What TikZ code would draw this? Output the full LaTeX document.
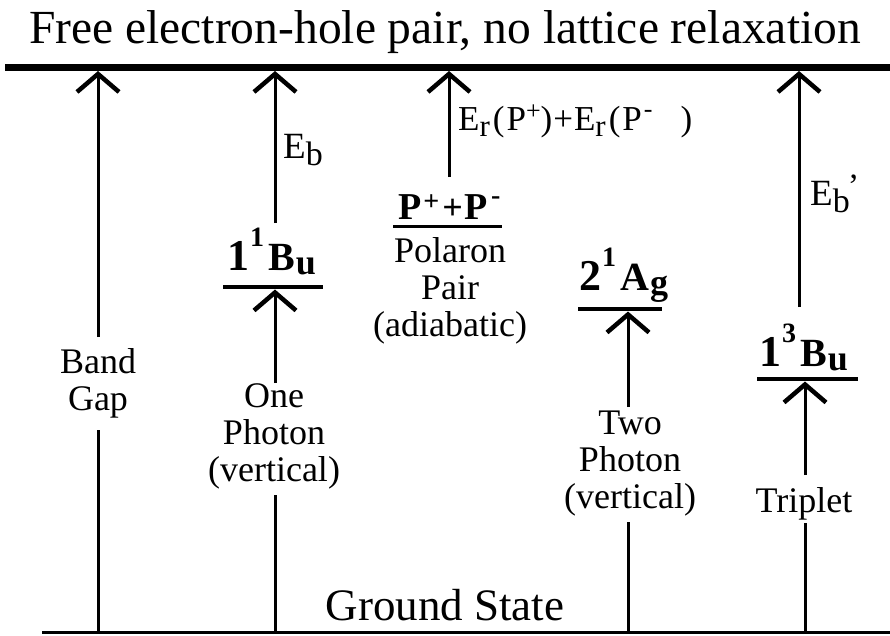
\documentclass[tikz,border=0pt]{standalone}
\usepackage{fontspec}
\setmainfont{Liberation Serif}
\usetikzlibrary{arrows.meta}
\newcommand{\fs}[1]{\fontsize{#1}{#1}\selectfont}
\newcommand{\stlab}[4]{{\fs{44}\bfseries #1}\kern1pt\raisebox{24pt}{\fs{28}\bfseries #2}\kern4pt{\fs{40}\bfseries #3}\kern1pt\raisebox{-4pt}{\fs{36}\bfseries #4}}
\begin{document}
\begin{tikzpicture}[x=1pt,y=-1pt,
  shaft/.style={line width=3pt},
  up/.style={shaft,-{Straight Barb[length=18pt,width=42pt,line width=4.5pt]}},
  level/.style={line width=3.5pt},
  lab/.style={font=\fontsize{36}{37}\selectfont, align=center, inner sep=0pt, anchor=north},
  state/.style={inner sep=0pt, anchor=base west},
  elab/.style={inner sep=0pt, anchor=base west},
]
\useasboundingbox (0,0) rectangle (890,635);

% frame lines
\coordinate (TL) at (5,67); \coordinate (TR) at (890,67);
\draw[line width=7pt] (TL) -- (TR);
\coordinate (BL) at (42,632.5); \coordinate (BR) at (890,632.5);
\draw[line width=3.5pt] (BL) -- (BR);

\node[inner sep=0pt, anchor=base, font=\fs{47.5}] (title) at (445,43) {Free electron-hole pair, no lattice relaxation};
\node[inner sep=0pt, anchor=base, font=\fs{45}] (ground) at (445,620) {Ground State};

% Band gap
\node[lab] (bg) at (98,348.5) {Band\\Gap};
\coordinate (bgG) at (98,632); \coordinate (bgB) at (98,430);
\coordinate (bgA) at (98,337); \coordinate (bgT) at (98,71);
\draw[shaft] (bgG) -- (bgB);
\draw[up] (bgA) -- (bgT);

% One photon / 1^1B_u
\node[state] (s1) at (227,270) {\stlab{1}{1}{B}{u}};
\coordinate (l1a) at (223,287); \coordinate (l1b) at (323,287);
\draw[level] (l1a) -- (l1b);
\coordinate (e1B) at (275,223); \coordinate (e1T) at (275,71);
\draw[up] (e1B) -- (e1T);
\node[elab] (eb) at (283,158) {\fs{37}E\raisebox{-7pt}{\fs{34}b}};
\node[lab] (op) at (274,383.5) {One\\Photon\\(vertical)};
\coordinate (opG) at (275,632); \coordinate (opB) at (275,495);
\coordinate (opA) at (275,383); \coordinate (opT) at (275,289.5);
\draw[shaft] (opG) -- (opB);
\draw[up] (opA) -- (opT);

% Polaron pair
\node[state] (pp) at (398,219) {\bfseries\fs{38}P\kern2pt\raisebox{9pt}{\fs{28}+}\kern3pt{\fs{36}+}\kern2pt P\kern3pt\raisebox{15pt}{\fs{28}-}};
\coordinate (ppa) at (393,226); \coordinate (ppb) at (502,226);
\draw[line width=3pt] (ppa) -- (ppb);
\coordinate (e2B) at (449,177); \coordinate (e2T) at (449,71);
\draw[up] (e2B) -- (e2T);
\node[elab] (er) at (458,130) {\fs{35}E\raisebox{-6pt}{\fs{31}r}\kern3pt(\kern2pt P\raisebox{11pt}{\fs{26}+})\kern1pt+\kern1pt E\raisebox{-6pt}{\fs{31}r}\kern3pt(\kern2pt P\kern2pt\raisebox{13pt}{\fs{26}-}\kern28pt)};
\node[lab] (pol) at (450,237.5) {Polaron\\Pair\\(adiabatic)};

% Two photon / 2^1A_g
\node[state] (s2) at (579,290) {\stlab{2}{1}{A}{g}};
\coordinate (l2a) at (578,309); \coordinate (l2b) at (662,309);
\draw[level] (l2a) -- (l2b);
\node[lab] (tp) at (630,411) {Two\\Photon\\(vertical)};
\coordinate (tpG) at (628,632); \coordinate (tpB) at (628,522);
\coordinate (tpA) at (628,407); \coordinate (tpT) at (628,311.5);
\draw[shaft] (tpG) -- (tpB);
\draw[up] (tpA) -- (tpT);

% Triplet / 1^3B_u
\node[state] (s3) at (759,366) {\stlab{1}{3}{B}{u}};
\coordinate (l3a) at (757,379); \coordinate (l3b) at (858,379);
\draw[level] (l3a) -- (l3b);
\coordinate (e3B) at (799,307); \coordinate (e3T) at (799,71);
\draw[up] (e3B) -- (e3T);
\node[elab] (ebp) at (810,205) {\fs{37}E\raisebox{-7pt}{\fs{34}b\kern-2pt\raisebox{15pt}{'}}};
\node[lab] (tr) at (804,487.5) {Triplet};
\coordinate (trG) at (805,632); \coordinate (trB) at (805,523);
\coordinate (trA) at (805,475); \coordinate (trT) at (805,381.5);
\draw[shaft] (trG) -- (trB);
\draw[up] (trA) -- (trT);
\end{tikzpicture}
\end{document}
